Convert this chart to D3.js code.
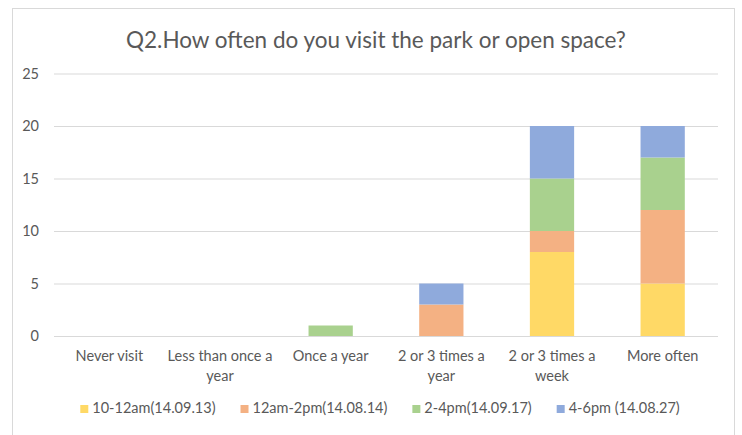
<!DOCTYPE html>
<html>
<head>
<meta charset="utf-8">
<script src="https://cdn.jsdelivr.net/npm/d3@7"></script>
<style>
  body { margin: 0; background: #fff; }
  text { font-family: Lato, "Open Sans", sans-serif; fill: #595959; }
</style>
</head>
<body>
<div id="chart"></div>
<script>
// data
var categories = ["Never visit", "Less than once a year", "Once a year", "2 or 3 times a year", "2 or 3 times a week", "More often"];
var seriesNames = ["10-12am(14.09.13)", "12am-2pm(14.08.14)", "2-4pm(14.09.17)", "4-6pm (14.08.27)"];
var s1013 = [0, 0, 0, 0, 8, 5];
var s1214 = [0, 0, 0, 3, 2, 7];
var s0917 = [0, 0, 1, 0, 5, 5];
var s0827 = [0, 0, 0, 2, 5, 3];
var yTicks = [0, 5, 10, 15, 20, 25];
var colors = ["#FFD966", "#F4B183", "#A9D18E", "#8FAADC"];

var width = 742, height = 435;
var margin = {left: 54, right: 24, top: 73.5, bottom: 99};
var fs = "14.5px";

var svg = d3.select("#chart").append("svg")
    .attr("width", width)
    .attr("height", height);

svg.append("rect")
    .attr("x", 12.5).attr("y", 8.5)
    .attr("width", 722).attr("height", 440)
    .attr("fill", "#fff")
    .attr("stroke", "#d9d9d9");

var x = d3.scaleBand().domain(categories)
    .range([margin.left, width - margin.right])
    .paddingInner(0.6).paddingOuter(0.3);
var y = d3.scaleLinear().domain([0, 25]).range([height - margin.bottom, margin.top]);

// title
svg.append("text")
    .attr("x", 376).attr("y", 42)
    .attr("text-anchor", "middle")
    .attr("dominant-baseline", "middle")
    .style("font-size", "22.5px")
    .text("Q2.How often do you visit the park or open space?");

// grid
var yAxis = d3.axisLeft(y).tickValues(yTicks).tickSize(-(width - margin.left - margin.right)).tickPadding(15);
var gy = svg.append("g").attr("transform", "translate(" + margin.left + ",0)").call(yAxis);
gy.select(".domain").remove();
gy.selectAll(".tick line").attr("stroke", "#d9d9d9");
gy.selectAll(".tick text").style("font-size", fs).style("font-family", null).attr("fill", "#595959");

// bars
var rows = categories.map(function(c, i) {
  return {cat: c, a: s1013[i], b: s1214[i], c: s0917[i], d: s0827[i]};
});
var stack = d3.stack().keys(["a", "b", "c", "d"]);
var layers = stack(rows);

svg.selectAll(".layer")
    .data(layers)
  .enter().append("g")
    .attr("class", "layer")
    .attr("fill", function(d, i) { return colors[i]; })
  .selectAll("rect")
    .data(function(d) { return d; })
  .enter().append("rect")
    .attr("x", function(d) { return x(d.data.cat); })
    .attr("width", x.bandwidth())
    .attr("y", function(d) { return y(d[1]); })
    .attr("height", function(d) { return y(d[0]) - y(d[1]); });

// category labels, wrapped
var gx = svg.append("g");
categories.forEach(function(c) {
  var cx = x(c) + x.bandwidth() / 2;
  var t = gx.append("text")
      .attr("text-anchor", "middle")
      .style("font-size", fs)
      .attr("x", cx)
      .attr("y", 361);
  var words = c.split(" "), line = [];
  var ts = t.append("tspan").attr("x", cx).attr("dy", 0);
  words.forEach(function(w) {
    line.push(w);
    ts.text(line.join(" "));
    if (ts.node().getComputedTextLength() > x.step() && line.length > 1) {
      line.pop();
      ts.text(line.join(" "));
      line = [w];
      ts = t.append("tspan").attr("x", cx).attr("dy", 20).text(w);
    }
  });
});

// legend
var lg = svg.append("g");
var pos = 0;
seriesNames.forEach(function(n, i) {
  var g = lg.append("g");
  g.append("rect").attr("width", 8).attr("height", 8).attr("y", -4).attr("fill", colors[i]);
  var t = g.append("text").attr("x", 12).attr("dominant-baseline", "middle")
      .style("font-size", fs).text(n);
  var w = 12 + t.node().getComputedTextLength();
  g.attr("transform", "translate(" + pos + ",0)");
  pos += w + 25;
});
pos -= 25;
lg.attr("transform", "translate(" + (380 - pos / 2) + ",409)");
</script>
</body>
</html>
